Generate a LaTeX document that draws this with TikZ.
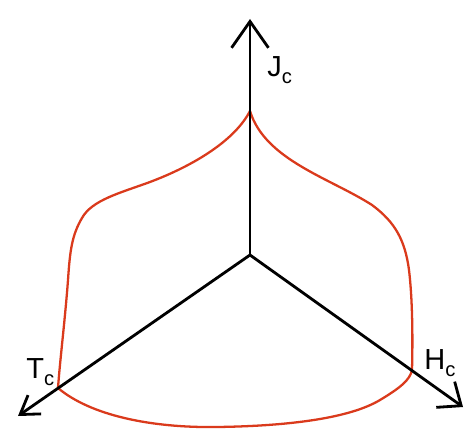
\documentclass[tikz,border=0pt]{standalone}
\usepackage{fontspec}
\setmainfont{Liberation Sans}
\usetikzlibrary{arrows.meta}
\definecolor{curvered}{RGB}{218,58,28}
\newcommand{\axlab}[2]{{\fontsize{16.5}{18}\selectfont #1\raisebox{-4.5pt}{\fontsize{11.5}{12}\selectfont #2}}}
\tikzset{
  axis/.style={line width=1.6pt, black, line cap=round},
  limit/.style={line width=1.3pt, curvered},
  lab/.style={anchor=base west, inner sep=0pt}
}
\begin{document}
\begin{tikzpicture}[x=0.02cm,y=-0.02cm]
\useasboundingbox (0,0) rectangle (469,429);
% coordinates
\coordinate (O) at (250,255);
\coordinate (J) at (250,19);
\coordinate (T) at (18,416);
\coordinate (H) at (463,407);
% critical surface
\draw[limit] (250,111) .. controls (235,140) and (195,165) .. (150,182)
  .. controls (120,193) and (92,200) .. (82,218)
  .. controls (72,235) and (70,250) .. (68,280)
  .. controls (65,320) and (60,360) .. (58,388)
  .. controls (90,415) and (150,428) .. (217,427)
  .. controls (290,426) and (350,418) .. (380,400)
  .. controls (400,388) and (410,380) .. (412,370)
  .. controls (413,330) and (412,295) .. (409,270)
  .. controls (405,240) and (395,222) .. (372,205)
  .. controls (330,178) and (265,160) .. (250,111);
% axes
\draw[axis, -{Straight Barb[length=15pt,width=21pt,line width=1.6pt]}] (O) -- (J);
\draw[axis, -{Straight Barb[length=10pt,width=13pt,line width=1.6pt]}] (O) -- (T);
\draw[axis, -{Straight Barb[length=11pt,width=18pt,line width=1.6pt]}] (O) -- (H);
% labels
\node[lab] (Jl) at (267,76) {\axlab{J}{c}};
\node[lab] (Tl) at (26,378) {\axlab{T}{c}};
\node[lab] (Hl) at (424,369) {\axlab{H}{c}};
\end{tikzpicture}
\end{document}
